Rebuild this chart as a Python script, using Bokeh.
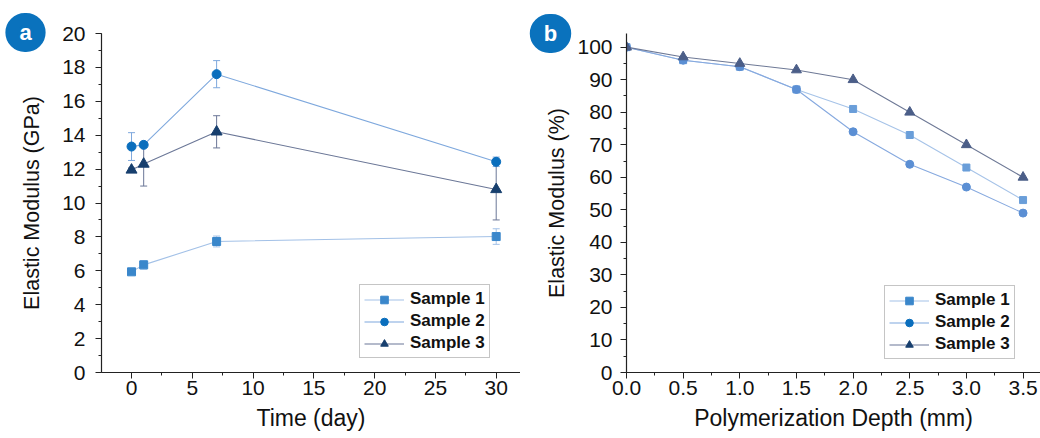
from bokeh.plotting import figure
from bokeh.models import (Range1d, SingleIntervalTicker, Whisker, TeeHead, ColumnDataSource,
                          Legend, LegendItem, Label, PrintfTickFormatter)
from bokeh.layouts import row
from bokeh.embed import file_html
from bokeh.resources import INLINE

# ---------- data panel a ----------
time_days = [0, 1, 7, 30]
a_s1 = [5.94, 6.35, 7.73, 8.02]
a_s1_err = [0.15, 0.25, 0.32, 0.46]
a_s2 = [13.33, 13.43, 17.6, 12.43]
a_s2_err = [0.82, 0.15, 0.8, 0.28]
a_s3 = [11.95, 12.3, 14.2, 10.8]
a_s3_err = [0.12, 1.3, 0.95, 1.8]

# ---------- data panel b ----------
depth_mm = [0.0, 0.5, 1.0, 1.5, 2.0, 2.5, 3.0, 3.5]
b_s1 = [100, 96, 94, 87, 81, 73, 63, 53]
b_s2 = [100, 96, 94, 87, 74, 64, 57, 49]
b_s3 = [100, 97, 95, 93, 90, 80, 70, 60]

series_names = ["Sample 1", "Sample 2", "Sample 3"]
markers = ["square", "circle", "triangle"]
marker_sizes = [8, 9, 11]
a_marker_colors = ["#3a87cb", "#0a6ebd", "#173f6e"]
a_line_colors = ["#a3c1e7", "#7ea8dd", "#6b7797"]
b_marker_colors = ["#6a9ed9", "#5b8fd4", "#4b5e88"]
b_line_colors = ["#a6c3e8", "#86a9df", "#6e7996"]

FONT = "Liberation Sans"
BADGE = "#0a72bd"


def style(p, xlabel, ylabel, ytick_standoff, ylab_standoff):
    p.outline_line_color = None
    p.xgrid.visible = False
    p.ygrid.visible = False
    p.background_fill_color = "white"
    p.border_fill_color = "white"
    for ax in (p.xaxis[0], p.yaxis[0]):
        ax.axis_line_color = "#222222"
        ax.axis_line_width = 1.2
        ax.major_tick_line_color = "#222222"
        ax.minor_tick_line_color = "#222222"
        ax.major_tick_in = 0
        ax.major_tick_out = 6
        ax.minor_tick_in = 0
        ax.minor_tick_out = 3
        ax.major_label_text_font = FONT
        ax.major_label_text_font_size = "21px"
        ax.major_label_text_color = "#111111"
        ax.axis_label_text_font = FONT
        ax.axis_label_text_font_style = "normal"
        ax.axis_label_text_color = "#111111"
    p.xaxis.axis_label = xlabel
    p.yaxis.axis_label = ylabel
    p.xaxis.axis_label_text_font_size = "23px"
    p.yaxis.axis_label_text_font_size = "21.5px"
    p.xaxis.major_label_standoff = 2
    p.xaxis.axis_label_standoff = 7
    p.yaxis.major_label_standoff = ytick_standoff
    p.yaxis.axis_label_standoff = ylab_standoff


def make_legend(p, items, loc):
    leg = Legend(items=items, location=loc)
    leg.label_text_font = FONT
    leg.label_text_font_style = "bold"
    leg.label_text_font_size = "17px"
    leg.label_text_color = "#111111"
    leg.glyph_width = 40
    leg.glyph_height = 19
    leg.label_height = 19
    leg.label_standoff = 6
    leg.spacing = 2
    leg.padding = 4
    leg.margin = 0
    leg.border_line_color = "#8c8c8c"
    leg.border_line_width = 1
    leg.background_fill_color = "white"
    leg.background_fill_alpha = 1
    p.add_layout(leg, "center")


def badge(p, text, sx, sy):
    # small box + thick stroke of the same colour -> 40px disc, while the
    # reported panel height stays below the 33px top border
    lab = Label(x=sx, y=sy, x_units="screen", y_units="screen", text=text,
                text_color="white", text_font=FONT, text_font_style="bold",
                text_font_size="22px", text_align="center", text_baseline="middle",
                background_fill_color=BADGE, background_fill_alpha=1,
                border_line_color=BADGE, border_line_width=12, border_radius=14,
                padding=dict(left=8, right=8, top=1, bottom=1))
    p.add_layout(lab, "above")


# ---------- panel a ----------
pa = figure(width=520, height=438, output_backend="svg", toolbar_location=None,
            x_range=Range1d(-2.47, 32.0), y_range=Range1d(0, 20),
            min_border_left=101, min_border_right=0, min_border_top=33, min_border_bottom=66)
style(pa, "Time (day)", "Elastic Modulus (GPa)", 10, 15)
pa.xaxis.ticker = SingleIntervalTicker(interval=5, num_minor_ticks=2)
pa.yaxis.ticker = SingleIntervalTicker(interval=2, num_minor_ticks=2)

a_items = []
for i, (vals, errs) in enumerate([(a_s1, a_s1_err), (a_s2, a_s2_err), (a_s3, a_s3_err)]):
    src = ColumnDataSource(dict(x=time_days, y=vals,
                                lo=[v - e for v, e in zip(vals, errs)],
                                hi=[v + e for v, e in zip(vals, errs)]))
    w = Whisker(base="x", lower="lo", upper="hi", source=src,
                line_color=a_line_colors[i], line_width=1,
                upper_head=TeeHead(size=7, line_color=a_line_colors[i], line_width=1),
                lower_head=TeeHead(size=7, line_color=a_line_colors[i], line_width=1))
    pa.add_layout(w)
    ln = pa.line("x", "y", source=src, line_color=a_line_colors[i], line_width=1.1)
    sc = pa.scatter("x", "y", source=src, marker=markers[i], size=marker_sizes[i],
                    fill_color=a_marker_colors[i], line_color=a_marker_colors[i])
    a_items.append(LegendItem(label=series_names[i], renderers=[ln, sc]))
make_legend(pa, a_items, (258, 14))
badge(pa, "a", -76, 1)

# ---------- panel b ----------
pb = figure(width=520, height=438, output_backend="svg", toolbar_location=None,
            x_range=Range1d(0, 3.654), y_range=Range1d(0, 104.2),
            min_border_left=106, min_border_right=0, min_border_top=33, min_border_bottom=66)
style(pb, "Polymerization Depth (mm)", "Elastic Modulus (%)", 8, 5)
pb.xaxis.ticker = SingleIntervalTicker(interval=0.5, num_minor_ticks=2)
pb.yaxis.ticker = SingleIntervalTicker(interval=10, num_minor_ticks=2)
pb.xaxis.formatter = PrintfTickFormatter(format="%.1f")

b_items = []
for i, vals in enumerate([b_s1, b_s2, b_s3]):
    src = ColumnDataSource(dict(x=depth_mm, y=vals))
    pb.line("x", "y", source=src, line_color=b_line_colors[i], line_width=1.1)
    pb.scatter("x", "y", source=src, marker=markers[i], size=marker_sizes[i] - 1,
               fill_color=b_marker_colors[i], line_color=b_marker_colors[i])
    dummy = ColumnDataSource(dict(x=[-10, -9], y=[-10, -10]))
    ln = pb.line("x", "y", source=dummy, line_color=a_line_colors[i], line_width=1.1)
    sc = pb.scatter("x", "y", source=dummy, marker=markers[i], size=marker_sizes[i],
                    fill_color=a_marker_colors[i], line_color=a_marker_colors[i])
    b_items.append(LegendItem(label=series_names[i], renderers=[ln, sc]))
make_legend(pb, b_items, (258, 13))
badge(pb, "b", -76, 0)

layout = row(pa, pb)
open("out.html", "w").write(file_html(layout, INLINE))
